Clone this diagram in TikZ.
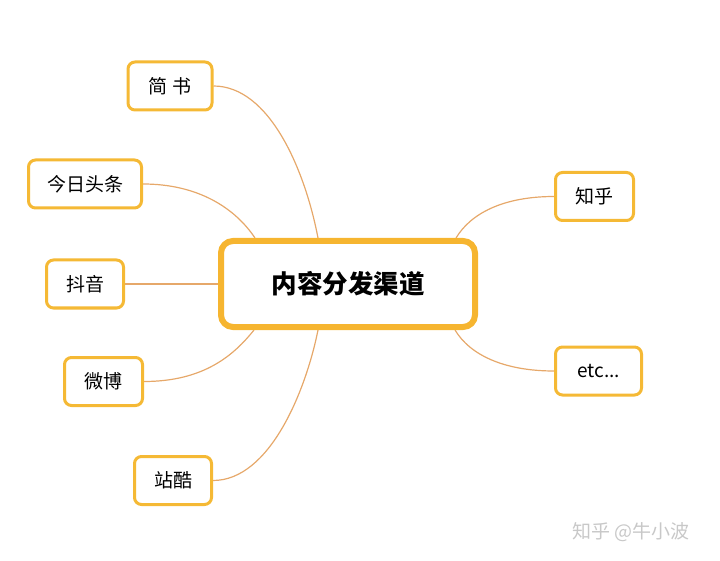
\documentclass[tikz,border=0pt]{standalone}
\usepackage{fontspec}
\setmainfont{Noto Sans CJK SC}
\usetikzlibrary{backgrounds}
\definecolor{boxcol}{HTML}{F5B935}
\definecolor{hubcol}{HTML}{F6B530}
\definecolor{linkcol}{HTML}{E6A86A}
\definecolor{wmcol}{HTML}{C8C8C8}
\tikzset{
  leaf/.style={draw=boxcol, line width=3pt, rounded corners=7pt, fill=white,
    inner sep=0pt, font=\fontsize{19}{21}\selectfont, minimum height=48pt},
  hub/.style={draw=hubcol, line width=6pt, rounded corners=12pt, fill=white,
    inner sep=0pt, minimum width=254pt, minimum height=86pt,
    font=\fontsize{25.5}{28}\selectfont\bfseries},
  link/.style={draw=linkcol, line width=1.2pt},
  wm/.style={text=wmcol, font=\fontsize{19}{21}\selectfont}
}
\begin{document}
\begin{tikzpicture}[x=1pt,y=-1pt]
\useasboundingbox (0,0) rectangle (720,561);
\node[hub] (hub) at (348,284) {内容分发渠道};
\node[leaf, minimum width=84pt] (jianshu) at (170,86) {简 书};
\node[leaf, minimum width=113pt] (toutiao) at (85,184) {今日头条};
\node[leaf, minimum width=77pt] (douyin) at (85,284) {抖音};
\node[leaf, minimum width=78pt] (weibo) at (103.5,381.5) {微博};
\node[leaf, minimum width=77pt] (zhanku) at (173,480.5) {站酷};
\node[leaf, minimum width=78pt] (zhihu) at (594.5,196.5) {知乎};
\node[leaf, minimum width=86pt] (etc) at (598.5,371) {etc...};
\node[wm] (mark) at (631,532) {知乎 @牛小波};
\begin{scope}[on background layer]
\draw[link] (jianshu.east) .. controls +(56,0) and +(-13,-68) .. ([xshift=-30pt]hub.north);
\draw[link] (toutiao.east) .. controls +(55,0) and +(-20,-30) .. ([xshift=-93pt]hub.north);
\draw[link] (douyin.east) -- (hub.west);
\draw[link] (weibo.east) .. controls +(60,0) and +(-20,25) .. ([xshift=-94pt]hub.south);
\draw[link] (zhanku.east) .. controls +(57,0) and +(-12,60) .. ([xshift=-30pt]hub.south);
\draw[link] (zhihu.west) .. controls +(-50,0) and +(15,-25) .. ([xshift=108pt]hub.north);
\draw[link] (etc.west) .. controls +(-50,0) and +(15,25) .. ([xshift=107pt]hub.south);
\end{scope}
\end{tikzpicture}
\end{document}
